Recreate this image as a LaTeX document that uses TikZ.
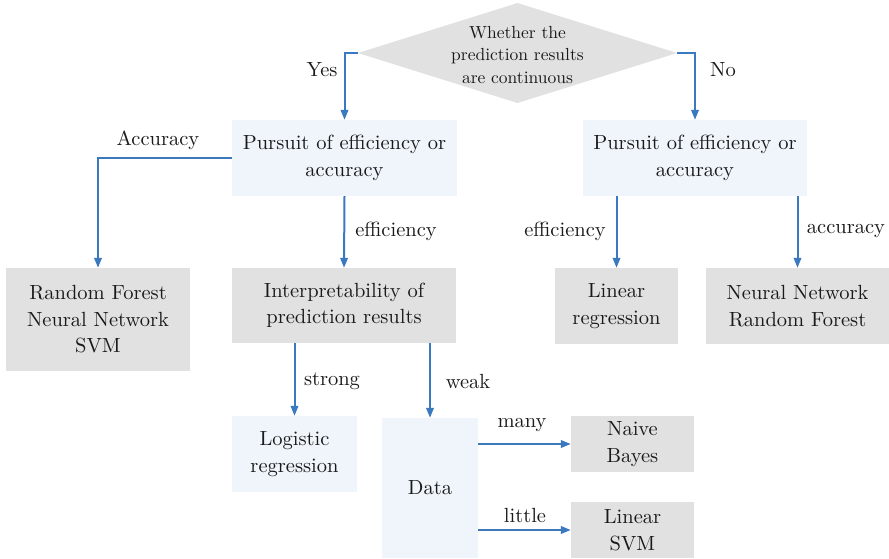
\documentclass[tikz,border=0pt]{standalone}
\usepackage{fontspec}
\setmainfont{lmroman10-regular.otf}
\usetikzlibrary{arrows.meta}
\definecolor{arrowblue}{HTML}{3A78BF}
\definecolor{boxgray}{HTML}{E1E1E1}
\definecolor{boxblue}{HTML}{EFF5FB}
\definecolor{inkgray}{HTML}{1A1A1A}
\begin{document}
\begin{tikzpicture}[x=1pt,y=-1pt,
  box/.style={rectangle, inner sep=0pt, align=center, text=inkgray,
    font=\fontsize{20.5}{26.5}\selectfont},
  graybox/.style={box, fill=boxgray},
  bluebox/.style={box, fill=boxblue},
  link/.style={draw=arrowblue, line width=2pt,
    -{Triangle[length=10pt,width=7.5pt]}},
  lbl/.style={inner sep=0pt, text=inkgray,
    font=\fontsize{20.5}{25}\selectfont}]
\useasboundingbox (0,0) rectangle (889,558);

% decision diamond
\fill[boxgray] (358,53) -- (517.5,3) -- (677,53) -- (517.5,103) -- cycle;
\coordinate (qL) at (358,53);
\coordinate (qR) at (677,53);
\node[box, font=\fontsize{17.5}{22.5}\selectfont] (q) at (517.5,55)
  {Whether the\\prediction results\\are continuous};

% boxes
\node[bluebox, minimum width=225, minimum height=76] (P1) at (344.5,158)
  {Pursuit of efficiency or\\accuracy};
\node[bluebox, minimum width=224, minimum height=76] (P2) at (695,158)
  {Pursuit of efficiency or\\accuracy};
\node[graybox, minimum width=184, minimum height=103] (RF) at (98,319.5)
  {Random Forest\\Neural Network\\SVM};
\node[graybox, minimum width=224, minimum height=75] (IP) at (344,305.5)
  {Interpretability of\\prediction results};
\node[graybox, minimum width=123, minimum height=76] (LR) at (616.5,306)
  {Linear\\regression};
\node[graybox, minimum width=183, minimum height=76] (NN) at (797.5,306)
  {Neural Network\\Random Forest};
\node[bluebox, minimum width=125, minimum height=76] (LG) at (294.5,454)
  {Logistic\\regression};
\node[bluebox, minimum width=96, minimum height=140] (DA) at (430,488)
  {Data};
\node[graybox, minimum width=123, minimum height=56] (NB) at (632.5,444)
  {Naive\\Bayes};
\node[graybox, minimum width=123, minimum height=56] (LS) at (632.5,530)
  {Linear\\SVM};

% connectors
\draw[link] (qL) -| (P1.north);
\draw[link] (qR) -| (P2.north);
\draw[link] (P1.west) -| (RF.north);
\draw[link] (P1.south) -- (IP.north);
\draw[link] (IP.south -| LG.north) -- (LG.north);
\draw[link] (IP.south -| DA.north) -- (DA.north);
\draw[link] (DA.east |- NB.west) -- (NB.west);
\draw[link] (DA.east |- LS.west) -- (LS.west);
\draw[link] (P2.south -| LR.north) -- (LR.north);
\draw[link] (P2.south -| NN.north) -- (NN.north);

% branch labels
\node[lbl] (lYes) at (322,70) {Yes};
\node[lbl] (lNo) at (723,70) {No};
\node[lbl] (lAcc) at (158,140) {Accuracy};
\node[lbl] (lEff) at (396,231) {efficiency};
\node[lbl] (lStr) at (332,381) {strong};
\node[lbl] (lWeak) at (468,381) {weak};
\node[lbl] (lMany) at (522,425) {many};
\node[lbl] (lLit) at (525,515) {little};
\node[lbl] (lEff2) at (565,231) {efficiency};
\node[lbl] (lAcc2) at (846,231) {accuracy};
\end{tikzpicture}
\end{document}
